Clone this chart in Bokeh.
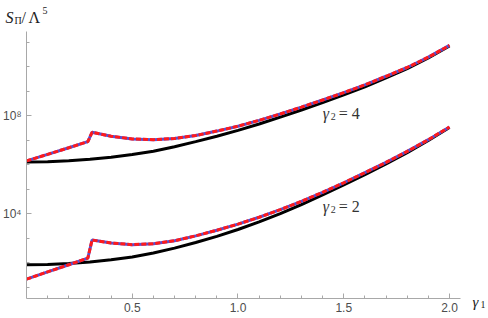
from bokeh.plotting import figure
from bokeh.models import FixedTicker, Label, Range1d, NumeralTickFormatter
from bokeh.embed import file_html
from bokeh.resources import INLINE

# gamma1 grid for the red/blue (dashed) curves, includes the kink
x_red = [0, 0.1, 0.2, 0.29, 0.31, 0.4, 0.5, 0.6, 0.7, 0.8, 0.9, 1.0,
         1.1, 1.2, 1.3, 1.4, 1.5, 1.6, 1.7, 1.8, 1.9, 2.0]
# gamma1 grid for black curves
x_black = [0, 0.1, 0.2, 0.3, 0.4, 0.5, 0.6, 0.7, 0.8, 0.9, 1.0,
           1.1, 1.2, 1.3, 1.4, 1.5, 1.6, 1.7, 1.8, 1.9, 2.0]

# gamma2 = 4
red4 = [1.45e6, 2.69e6, 5.0e6, 8.9e6, 2.14e7, 1.48e7, 1.15e7, 1.07e7, 1.20e7,
        1.58e7, 2.40e7, 3.80e7, 6.6e7, 1.20e8, 2.29e8, 4.47e8, 8.9e8, 1.86e9,
        4.17e9, 9.5e9, 2.51e10, 7.6e10]
black4 = [1.32e6, 1.35e6, 1.48e6, 1.70e6, 2.04e6, 2.63e6, 3.63e6, 5.5e6, 8.9e6,
          1.48e7, 2.57e7, 4.68e7, 8.9e7, 1.74e8, 3.47e8, 7.2e8, 1.55e9, 3.55e9,
          8.5e9, 2.34e10, 7.2e10]
# gamma2 = 2
red2 = [21.4, 42.7, 83.2, 155, 851, 646, 550, 603, 794, 1259, 2138, 3802,
        7244, 1.48e4, 3.24e4, 7.59e4, 1.86e5, 4.79e5, 1.26e6, 3.55e6, 1.07e7,
        3.55e7]
black2 = [83.2, 85.1, 93.3, 107, 132, 174, 251, 398, 676, 1202, 2291, 4677,
          1.02e4, 2.40e4, 5.89e4, 1.51e5, 3.98e5, 1.10e6, 3.16e6, 1.0e7, 3.39e7]

x_ticks = [0.5, 1.0, 1.5, 2.0]
x_minor = [round(0.1 * k, 1) for k in range(1, 21)]
y_ticks = [1e4, 1e8]
y_minor = [10.0 ** k for k in range(1, 12)]
y_tick_labels = {10000: "10\u2074", 100000000: "10\u2078"}

curve_values = ["4", "2"]
label_x = [1.5, 1.5]
label_y = [1.26e8, 2.03e4]

# extent of the drawn axes (data units)
AX0, AX1 = 0, 2.052
AY0, AY1 = 3.47, 2.8e11
# view range (whole canvas)
VX0, VX1 = -0.1229, 2.1844
VY0, VY1 = 0.53, 5.19e12

p = figure(width=488, height=318, x_range=Range1d(VX0, VX1),
           y_range=Range1d(VY0, VY1), y_axis_type="log",
           output_backend="svg", toolbar_location=None,
           min_border=0)
p.outline_line_color = None
p.grid.visible = False
p.background_fill_color = "white"
p.border_fill_color = "white"

axis_col = "#a8a8a8"
lab_col = "#4d4d4d"
for ax in (p.xaxis[0], p.yaxis[0]):
    ax.axis_line_color = axis_col
    ax.major_tick_line_color = axis_col
    ax.minor_tick_line_color = axis_col
    ax.major_tick_in = 5
    ax.major_tick_out = 0
    ax.minor_tick_in = 3
    ax.minor_tick_out = 0
    ax.major_label_text_color = lab_col
    ax.major_label_text_font = "Liberation Sans"
    ax.major_label_text_font_size = "12px"

p.xaxis[0].fixed_location = AY0
p.xaxis[0].bounds = (AX0, AX1)
p.xaxis[0].ticker = FixedTicker(ticks=x_ticks, minor_ticks=x_minor)
p.xaxis[0].formatter = NumeralTickFormatter(format="0.0")
p.xaxis[0].major_label_standoff = 4
p.yaxis[0].fixed_location = AX0
p.yaxis[0].bounds = (AY0, AY1)
p.yaxis[0].ticker = FixedTicker(ticks=y_ticks, minor_ticks=y_minor)
p.yaxis[0].major_label_overrides = y_tick_labels
p.yaxis[0].major_label_standoff = 5

for xr, yr, xb, yb in ((x_red, red4, x_black, black4), (x_red, red2, x_black, black2)):
    p.line(xb, yb, line_color="black", line_width=3)
    p.line(xr, yr, line_color="#5a4fcf", line_width=3)
    p.line(xr, yr, line_color="#ff1a1a", line_width=3, line_dash="5 2")

serif = "Liberation Serif"
txt_col = "#222222"


def add_text(x, y, txt, xo, yo, size, style="normal", color=txt_col):
    p.add_layout(Label(x=x, y=y, x_offset=xo, y_offset=yo, text=txt,
                       text_font=serif, text_font_size=size,
                       text_font_style=style, text_baseline="alphabetic",
                       text_align="left", text_color=color))


# curve labels: gamma_2 = 4 / gamma_2 = 2
for v, lx, ly in zip(curve_values, label_x, label_y):
    add_text(lx, ly, "\u03b3", -21, 0, "16px", "italic", "#333333")
    add_text(lx, ly, "2", -13, -3, "10px", "normal", "#333333")
    add_text(lx, ly, "= " + v, -5, 0, "16px", "normal", "#333333")

# y axis title: S_Pi / Lambda^5
for txt, xo, yo, size, style in (("S", -21, 14, "16px", "italic"),
                                 ("\u03a0", -12, 11, "10px", "normal"),
                                 ("/", -5, 14, "16px", "normal"),
                                 ("\u039b", 2, 14, "16px", "normal"),
                                 ("5", 16, 21, "10px", "normal")):
    add_text(AX0, AY1, txt, xo, yo, size, style)

# x axis title: gamma_1
for txt, xo, yo, size, style in (("\u03b3", 12, -3, "15px", "italic"),
                                 ("1", 20, -6, "10px", "normal")):
    add_text(AX1, AY0, txt, xo, yo, size, style)

open("out.html", "w").write(file_html(p, INLINE))
